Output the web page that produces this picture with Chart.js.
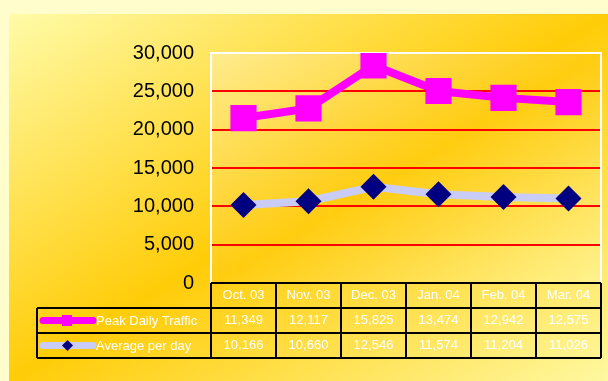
<!DOCTYPE html>
<html>
<head>
<meta charset="utf-8">
<script src="https://cdn.jsdelivr.net/npm/chart.js@4"></script>
<style>
  html, body { margin: 0; padding: 0; background: #FFFDCB; }
  canvas { display: block; }
</style>
</head>
<body>
<canvas id="chart" width="608" height="381"></canvas>
<script>
const months = ["Oct. 03", "Nov. 03", "Dec. 03", "Jan. 04", "Feb. 04", "Mar. 04"];
const peakDaily = [11349, 12117, 15825, 13474, 12942, 12575];
const avgPerDay = [10166, 10660, 12546, 11574, 11204, 11026];
const seriesNames = ["Peak Daily Traffic", "Average per day"];

const FONT = "'Liberation Sans', Arial, sans-serif";

// diagonal gradient where the two opposite corners share the middle colour
function diagGradient(ctx, x, y, w, h, stops) {
  const cx = x + w / 2, cy = y + h / 2;
  const k = (w * h) / (w * w + h * h);
  const g = ctx.createLinearGradient(cx - h * k, cy - w * k, cx + h * k, cy + w * k);
  stops.forEach(([p, c]) => g.addColorStop(p, c));
  return g;
}

const bgPlugin = {
  id: "bg",
  beforeDraw(chart) {
    const { ctx, chartArea: a } = chart;
    ctx.save();
    ctx.fillStyle = "#FFFDCB";
    ctx.fillRect(0, 0, chart.width, chart.height);
    ctx.fillStyle = diagGradient(ctx, 9, 14, 599, 367, [
      [0, "#FFFBA8"], [0.5, "#FFCC08"], [1, "#FFF8A0"]
    ]);
    ctx.fillRect(9, 14, 599, 367);
    ctx.fillStyle = diagGradient(ctx, a.left, a.top, a.right - a.left, a.bottom - a.top, [
      [0, "#FFEC90"], [0.5, "#FFCC10"], [1, "#FFF390"]
    ]);
    ctx.fillRect(a.left, a.top, a.right - a.left, a.bottom - a.top);
    ctx.restore();
  },
  beforeDatasetsDraw(chart) {
    const { ctx, chartArea: a } = chart;
    ctx.save();
    ctx.strokeStyle = "#FFFFFF";
    ctx.lineWidth = 2;
    ctx.beginPath();
    ctx.moveTo(a.left, a.bottom);
    ctx.lineTo(a.left, a.top);
    ctx.lineTo(a.right, a.top);
    ctx.lineTo(a.right, a.bottom);
    ctx.stroke();
    ctx.restore();
  }
};

// data table under the plot, with legend keys in the first column
const tablePlugin = {
  id: "dataTable",
  afterDraw(chart) {
    const { ctx, chartArea: a } = chart;
    const xs = chart.scales.x;
    const colW = (a.right - a.left) / months.length;
    const rowH = 25;
    const top = a.bottom;
    const keyLeft = 37;
    const rows = [peakDaily, avgPerDay];

    ctx.save();
    ctx.fillStyle = "#FFFFFF";
    ctx.font = "13px " + FONT;
    ctx.textAlign = "center";
    ctx.textBaseline = "middle";
    months.forEach((m, i) => {
      const cx = xs.getPixelForValue(i);
      ctx.fillText(m, cx, top + rowH / 2);
      rows.forEach((r, j) => {
        ctx.fillText(r[i].toLocaleString("en-US"), cx, top + rowH * (j + 1.5));
      });
    });

    // legend keys
    const ds = chart.data.datasets;
    const order = [1, 0];
    order.forEach((di, j) => {
      const d = ds[di];
      const y = top + rowH * (j + 1.5);
      ctx.strokeStyle = d.borderColor;
      ctx.lineWidth = 7;
      ctx.lineCap = "round";
      ctx.beginPath();
      ctx.moveTo(43, y);
      ctx.lineTo(93, y);
      ctx.stroke();
      ctx.fillStyle = d.pointBackgroundColor;
      if (d.pointStyle === "rect") {
        ctx.fillRect(62, y - 5.5, 10, 11);
      } else {
        ctx.beginPath();
        ctx.moveTo(67.5, y - 5.5);
        ctx.lineTo(73, y);
        ctx.lineTo(67.5, y + 5.5);
        ctx.lineTo(62, y);
        ctx.closePath();
        ctx.fill();
      }
      ctx.fillStyle = "#FFFFFF";
      ctx.textAlign = "left";
      ctx.fillText(seriesNames[j], 96, y + 1);
    });

    // grid lines of the table
    ctx.strokeStyle = "#000000";
    ctx.lineWidth = 2;
    ctx.lineCap = "butt";
    ctx.beginPath();
    ctx.moveTo(a.left, top);
    ctx.lineTo(a.right, top);
    for (let j = 1; j <= 3; j++) {
      ctx.moveTo(keyLeft, top + rowH * j);
      ctx.lineTo(a.right, top + rowH * j);
    }
    for (let i = 0; i <= months.length; i++) {
      const x = a.left + colW * i;
      ctx.moveTo(x, top);
      ctx.lineTo(x, top + rowH * 3);
    }
    ctx.moveTo(keyLeft, top + rowH);
    ctx.lineTo(keyLeft, top + rowH * 3);
    ctx.stroke();
    ctx.restore();
  }
};

new Chart(document.getElementById("chart"), {
  type: "line",
  data: {
    labels: months,
    datasets: [
      {
        label: seriesNames[1],
        data: avgPerDay,
        borderColor: "#C8CCF6",
        borderWidth: 8,
        pointStyle: "rectRot",
        pointRadius: 13,
        pointHoverRadius: 13,
        pointBackgroundColor: "#000080",
        pointBorderWidth: 0,
        tension: 0,
        fill: false
      },
      {
        label: seriesNames[0],
        data: peakDaily,
        borderColor: "#FF00FF",
        borderWidth: 8,
        pointStyle: "rect",
        pointRadius: 18.5,
        pointHoverRadius: 18.5,
        pointBackgroundColor: "#FF00FF",
        pointBorderWidth: 0,
        tension: 0,
        fill: false
      }
    ]
  },
  options: {
    responsive: false,
    animation: false,
    events: [],
    layout: { autoPadding: false, padding: { left: 0, top: 53, right: 7, bottom: 98 } },
    plugins: {
      legend: { display: false },
      tooltip: { enabled: false }
    },
    scales: {
      x: {
        display: false,
        offset: true,
        grid: { display: false }
      },
      y: {
        stacked: true,
        min: 0,
        max: 30000,
        afterFit(s) { s.width = 211; },
        border: { display: false },
        grid: {
          drawTicks: false,
          lineWidth: 2,
          color: (c) => (c.tick && (c.tick.value === 0 || c.tick.value === 30000)) ? "rgba(0,0,0,0)" : "#FF0000"
        },
        ticks: {
          stepSize: 5000,
          padding: 17,
          color: "#000000",
          font: { family: FONT, size: 20 },
          callback: (v) => v.toLocaleString("en-US")
        }
      }
    }
  },
  plugins: [bgPlugin, tablePlugin]
});
</script>
</body>
</html>
